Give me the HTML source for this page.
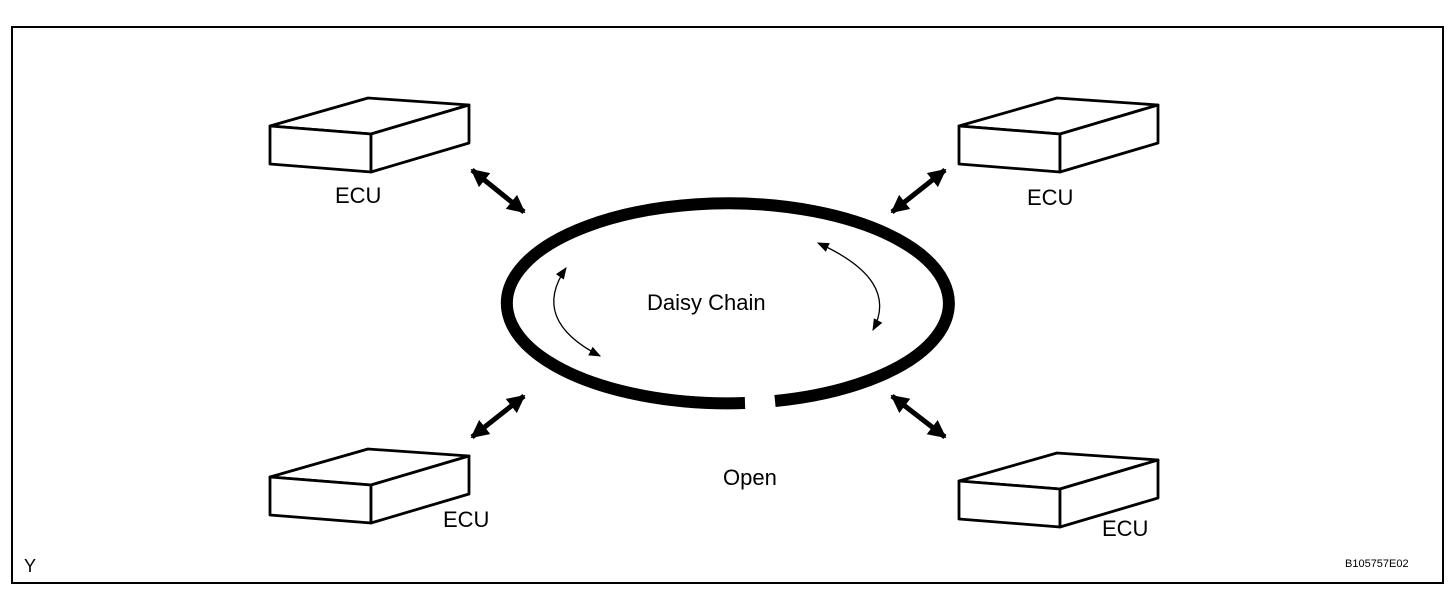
<!DOCTYPE html>
<html><head><style>body{margin:0;background:#fff}svg{display:block}text{font-family:"Liberation Sans",Arial,sans-serif}</style></head><body>
<svg width="1456" height="594" viewBox="0 0 1456 594" xmlns="http://www.w3.org/2000/svg">
<defs>
<marker id="big" viewBox="0 0 10 10" refX="9" refY="5" markerWidth="3.6" markerHeight="3.6" orient="auto-start-reverse"><path d="M0,0L10,5L0,10z" fill="#000"/></marker>
<marker id="sm" viewBox="0 0 10 10" refX="9" refY="5" markerWidth="12" markerHeight="12" markerUnits="userSpaceOnUse" orient="auto-start-reverse"><path d="M0,1L10,5L0,9z" fill="#000"/></marker>
<g id="box" fill="#fff" stroke="#000" stroke-width="2.8" stroke-linejoin="round">
<path d="M0,28L98,0L199,7L101,36z"/>
<path d="M0,28L101,36L101,74L0,66z"/>
<path d="M101,36L199,7L199,45L101,74z"/>
</g>
</defs>
<rect x="12" y="27" width="1431" height="556" fill="none" stroke="#000" stroke-width="2"/>
<use href="#box" x="270" y="98"/>
<use href="#box" x="959" y="98"/>
<use href="#box" x="270" y="449"/>
<use href="#box" x="959" y="453"/>
<g font-size="22" fill="#000">
<text x="335" y="203">ECU</text>
<text x="1027" y="205">ECU</text>
<text x="443" y="527">ECU</text>
<text x="1102" y="536">ECU</text>
<text x="647" y="310">Daisy Chain</text>
<text x="723" y="485">Open</text>
<text x="24" y="572" font-size="18">Y</text>
<text x="1345" y="567" font-size="11">B105757E02</text>
</g>
<path d="M775,401 A221,100 0 1 0 745,403" fill="none" stroke="#000" stroke-width="12"/>
<g stroke="#000" stroke-width="5" fill="none" marker-start="url(#big)" marker-end="url(#big)">
<line x1="472" y1="170" x2="524" y2="212"/>
<line x1="945" y1="170" x2="892" y2="212"/>
<line x1="524" y1="396" x2="472" y2="437"/>
<line x1="892" y1="396" x2="945" y2="437"/>
</g>
<g stroke="#000" stroke-width="1.3" fill="none" marker-start="url(#sm)" marker-end="url(#sm)">
<path d="M566,268 Q530,320 600,356"/>
<path d="M818,243 Q900,280 873,330"/>
</g>
</svg>
</body></html>
